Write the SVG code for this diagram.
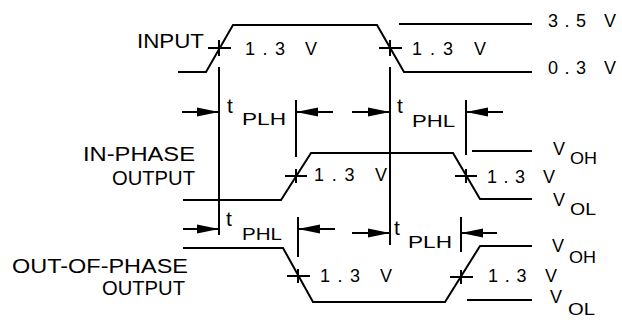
<svg xmlns="http://www.w3.org/2000/svg" width="622" height="320" viewBox="0 0 622 320">
<defs>
<style>
.w{fill:none;stroke:#000;stroke-width:2;stroke-linejoin:miter}
.t{font-family:"Liberation Sans",Arial,sans-serif;fill:#000}
.lbl{font-size:20px}
.v{font-size:18px}
.s{font-size:16px}
.tt{font-size:21px}
.ar{fill:none;stroke:#000;stroke-width:2}
</style>
<marker id="ah" viewBox="0 0 22 10" refX="22" refY="5" markerWidth="22" markerHeight="10" markerUnits="userSpaceOnUse" orient="auto">
<path d="M0,0.5 L22,5 L0,9.5 z" fill="#000"/>
</marker>
</defs>
<rect width="622" height="320" fill="#fff"/>

<g id="input">
<path class="w" d="M178,72 L206,72 L233,25 L377,25 L404,72 L532,72"/>
<path class="w" d="M399,24 L532,24"/>
<path class="w" d="M208,48 L231,48 M219,40 L219,56"/>
<path class="w" d="M379,48 L402,48 M390,40 L390,56"/>
<text class="t lbl" x="137" y="48" textLength="67" lengthAdjust="spacingAndGlyphs">INPUT</text>
<text class="t v" x="245" y="55" textLength="72" lengthAdjust="spacing">1.3 V</text>
<text class="t v" x="412" y="55" textLength="74" lengthAdjust="spacing">1.3 V</text>
<text class="t v" x="548" y="27" textLength="68" lengthAdjust="spacing">3.5 V</text>
<text class="t v" x="548" y="74" textLength="68" lengthAdjust="spacing">0.3 V</text>
</g>

<g id="in-phase">
<path class="w" d="M183,200 L281,200 L311,153 L453,153 L480,199 L532,199"/>
<path class="w" d="M472,151 L532,151"/>
<path class="w" d="M285,176 L307,176 M296,169 L296,183"/>
<path class="w" d="M455,176 L477,176 M466,169 L466,183"/>
<text class="t lbl" x="83" y="161" textLength="112" lengthAdjust="spacingAndGlyphs">IN-PHASE</text>
<text class="t lbl" x="112" y="185" textLength="83" lengthAdjust="spacingAndGlyphs">OUTPUT</text>
<text class="t v" x="314" y="181" textLength="73" lengthAdjust="spacing">1.3 V</text>
<text class="t v" x="487" y="183" textLength="68" lengthAdjust="spacing">1.3 V</text>
<text class="t v" x="553" y="155">V</text>
<text class="t s" x="570" y="164" textLength="27" lengthAdjust="spacingAndGlyphs">OH</text>
<text class="t v" x="553" y="206">V</text>
<text class="t s" x="570" y="215" textLength="26" lengthAdjust="spacingAndGlyphs">OL</text>
</g>

<g id="out-of-phase">
<path class="w" d="M183,248 L283,248 L313,302 L445,302 L480,246 L532,246"/>
<path class="w" d="M467,300 L532,300"/>
<path class="w" d="M287,276 L310,276 M298,269 L298,283"/>
<path class="w" d="M450,277 L473,277 M461,270 L461,284"/>
<text class="t lbl" x="12" y="273" textLength="176" lengthAdjust="spacingAndGlyphs">OUT-OF-PHASE</text>
<text class="t lbl" x="102" y="295" textLength="83" lengthAdjust="spacingAndGlyphs">OUTPUT</text>
<text class="t v" x="320" y="282" textLength="72" lengthAdjust="spacing">1.3 V</text>
<text class="t v" x="488" y="282" textLength="69" lengthAdjust="spacing">1.3 V</text>
<text class="t v" x="552" y="252">V</text>
<text class="t s" x="569" y="263" textLength="27" lengthAdjust="spacingAndGlyphs">OH</text>
<text class="t v" x="550" y="303">V</text>
<text class="t s" x="568" y="315" textLength="27" lengthAdjust="spacingAndGlyphs">OL</text>
</g>

<g id="timing">
<text class="t tt" x="227" y="113">t</text>
<text class="t s" x="242" y="125" textLength="44" lengthAdjust="spacingAndGlyphs">PLH</text>
<text class="t tt" x="397" y="113">t</text>
<text class="t s" x="412" y="127" textLength="43" lengthAdjust="spacingAndGlyphs">PHL</text>
<text class="t tt" x="226" y="226">t</text>
<text class="t s" x="242" y="240" textLength="40" lengthAdjust="spacingAndGlyphs">PHL</text>
<text class="t tt" x="394" y="235">t</text>
<text class="t s" x="408" y="248" textLength="44" lengthAdjust="spacingAndGlyphs">PLH</text>
</g>

<g id="connectors">
<path class="w" d="M219,67 L219,235 M296,100 L296,157 M390,67 L390,245 M466,100 L466,155 M298,217 L298,257 M461,217 L461,252"/>
<path class="ar" marker-end="url(#ah)" d="M182,112 L219,112"/>
<path class="ar" marker-end="url(#ah)" d="M333,112 L296,112"/>
<path class="ar" marker-end="url(#ah)" d="M352,112 L390,112"/>
<path class="ar" marker-end="url(#ah)" d="M503,112 L466,112"/>
<path class="ar" marker-end="url(#ah)" d="M183,229 L219,229"/>
<path class="ar" marker-end="url(#ah)" d="M335,229 L298,229"/>
<path class="ar" marker-end="url(#ah)" d="M352,233 L390,233"/>
<path class="ar" marker-end="url(#ah)" d="M497,233 L461,233"/>
</g>
</svg>
